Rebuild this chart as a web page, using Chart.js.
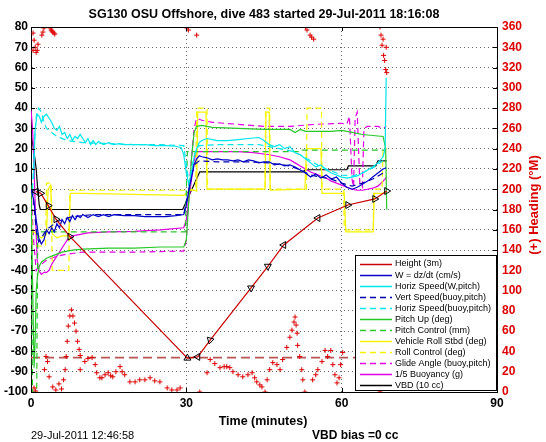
<!DOCTYPE html>
<html>
<head>
<meta charset="utf-8">
<script src="https://cdn.jsdelivr.net/npm/chart.js@4"></script>
<style>
  html, body { margin: 0; padding: 0; background: #fff; }
</style>
</head>
<body>
<canvas id="diveChart" width="546" height="442"></canvas>
<script>
// time in minutes, left axis in plot units, heading in degrees (right axis)
const xTicks = [0, 30, 60, 90];
const yTicks = [-100, -90, -80, -70, -60, -50, -40, -30, -20, -10, 0, 10, 20, 30, 40, 50, 60, 70, 80];

const heightSeries = [[0.97,-1.2],[1.87,-2],[3.34,-8.1],[4.83,-14.8],[7.53,-23.4],[30.2,-83.3],[32.2,-82.7],[34.6,-74.4],[42.5,-48.7],[45.75,-38],[48.8,-27.5],[55.4,-14.2],[61.2,-7.8],[66.4,-4.8],[68.7,-0.9]];
const heightMarkerRot = [-90, 90, 90, 90, 90, 0, -90, -45, 180, 180, -90, -90, 90, 90, 90];
const targetDepth = [[0,-83],[90,-83]];

const wSeries = [[0,0],[0.5,-5],[1,-15],[1.5,-24],[2,-27],[2.5,-25],[3,-20],[3.5,-22],[4,-19],[4.5,-21],[5,-17],[5.5,-19],[6,-15],[6.5,-17],[7,-14],[7.5,-16],[8,-13],[8.5,-15],[9,-13],[9.5,-14],[10,-12.5],[11,-14],[12,-12.5],[13,-13.5],[14,-12.5],[15,-13.5],[16,-12.5],[18,-13],[20,-13],[22,-13.5],[24,-13.5],[26,-13.5],[28,-13],[29.5,-12.5],[30,-8],[30.5,0],[31,6],[31.5,12],[32,15],[32.5,16.5],[33,16],[34,15.5],[35,14.5],[36,15],[37,14.5],[38,14.5],[39,14],[40,14.5],[41,13.5],[42,14.5],[43,14],[44,13],[45,13.5],[46,13.5],[47,12],[48,12.5],[49,11.5],[50,12],[51,11],[52,9.5],[53,8],[54,6],[55,7.5],[56,5.5],[57,7],[58,5],[59,6],[60,3],[61,1],[62,0],[63,1],[64,2.5],[65,4],[66,6],[67,8],[68,10],[68.6,10.5]];
const horizWSeries = [[0.5,5],[0.8,30],[1.2,37],[1.6,36],[2,33],[2.5,36],[3,37],[3.5,35],[4,33],[4.5,30],[5,29],[5.5,31],[6,27],[6.5,28],[7,25],[7.5,27],[8,24],[8.5,26],[9,25],[9.5,27],[10,25],[10.5,23],[11,25],[11.5,22],[12,24],[12.5,22],[13,23.5],[14,22],[15,23],[16,22],[17,22.5],[18,22],[20,22],[22,22],[24,21.5],[26,21.5],[28,21.2],[29,20.5],[29.5,17],[30,8],[30.5,2],[31,8],[31.5,16],[32,20],[32.5,23],[33,24],[34,25],[35,24.5],[36,24],[38,24],[40,24.5],[42,25],[44,25.5],[45,24],[46,22],[47,21],[48,22],[49,20],[50,21],[51,18],[52,17],[53,15],[54,13],[55,11],[56,12],[57,9.5],[58,8],[59,7],[60,6],[61,5.5],[62,6],[63,6.5],[64,8],[65,9.5],[66,11],[67,13],[68,16],[68.4,20],[68.6,55]];
const vertBuoySeries = [[0.3,0],[0.7,-12],[1.1,-22],[1.5,-26],[2,-24],[3,-20],[5,-16],[8,-13.5],[12,-12.5],[20,-12.5],[29.5,-12.5],[30.5,0],[31.5,12],[32.5,14],[36,13.5],[42,13.5],[46,13],[50,11.5],[52,9.5],[54,7],[56,6],[58,5],[60,3],[62,1.5],[64,3],[66,5],[68,8]];
const horizBuoySeries = [[0.3,0],[0.7,25],[1.1,38],[1.5,40],[2,38],[2.5,33],[3,30],[4,28],[5,26],[7,24],[10,23],[15,22.5],[20,22],[25,22],[29.5,21.5],[30,12],[30.5,3],[31,10],[31.7,18],[32.5,21.5],[36,22],[40,22],[44,22],[46,21],[48,20],[50,19],[52,17],[54,14],[56,11],[58,9],[60,7],[62,6.5],[64,8],[66,10.5],[68,14]];
const pitchSeries = [[0,2],[0.2,-30],[0.4,-60],[0.6,-88],[0.8,-75],[1,-50],[1.3,-42],[1.6,-38],[2,-36],[3,-34],[4,-33],[5,-32],[6,-31],[8,-30],[10,-29.5],[15,-29],[20,-29],[25,-28.5],[29.5,-28.5],[30,-25],[30.5,-5],[31,15],[31.5,28],[32,31],[33,31.5],[35,30.5],[40,30],[45,29.5],[50,29.5],[51,28],[52,29.5],[53,28.5],[55,28.5],[58,28.5],[60,29],[62,28],[64,27],[66,26.5],[68,26],[68.5,20],[68.7,-10]];
const pitchCtlSeries = [[0,-5],[0.3,-100],[1.1,-100],[1.3,-21],[29.8,-21],[30.2,18.5],[52,18.5],[52.2,19.3],[68.5,19.3]];
const rollSeries = [[0,-20],[1,-22],[2,-24],[3,-22],[3.3,0],[3.8,2],[4.1,-22],[5,-24],[6,-23],[7.3,-23],[7.6,-2],[10,-2],[20,-2.5],[29.5,-3],[30,-2],[31,0],[32,-1],[32.2,38],[33.8,38],[34,0],[45.2,0],[45.4,38],[46,38],[46.2,-0.5],[52.9,0],[53.2,20],[56,20],[56.2,-2],[60.5,-2],[60.8,-21],[66.1,-21],[66.3,-2],[68.5,-2]];
const rollCtlSeries = [[0,0],[0.3,-28],[2.8,-28],[3,3],[3.9,3],[4.1,-40],[7.3,-40],[7.5,-0.5],[31.8,-0.5],[32,40],[34,40],[34.1,0],[45.2,0],[45.3,40],[46.1,40],[46.2,0],[53.2,0],[53.3,40],[56.1,40],[56.2,0],[60.4,0],[60.5,-20],[66.1,-20],[66.2,0],[67.8,0],[68,20],[68.7,20]];
const glideSeries = [[0,0],[0.5,-25],[1,-40],[1.5,-38],[2,-37],[3,-35],[5,-33],[7,-32],[10,-31],[20,-31],[29.5,-30.5],[30,-25],[30.5,0],[31.5,30],[32,35],[33,34],[35,33],[40,32],[45,31],[50,31],[55,32],[60,32.5],[61,32],[61.5,36],[62,5],[62.3,1],[62.6,35],[63,38],[63.5,3],[64,1],[64.3,30],[65,31],[67,31],[68,30],[68.6,31]];
const buoySeries = [[0,39],[0.3,30],[0.6,10],[0.9,-15],[1.2,-35],[1.5,-40],[2,-42],[2.5,-41],[3,-41],[3.5,-40],[4,-37],[4.5,-35],[5,-33],[5.5,-31],[6,-29],[7,-25],[8,-23],[9,-22.5],[11,-21.5],[15,-21],[20,-20.8],[25,-20],[29.5,-19],[30,-15],[30.5,-5],[31,5],[31.5,14],[32,18.5],[35,18.5],[40,18.5],[43,18],[46,17],[48,16],[50,14.5],[51,13],[52,11.5],[53,10],[54,8.5],[55,7.5],[56,6.5],[57,5.5],[58,4],[59,3],[60,2],[61,1],[62,0],[63,-0.5],[64,-0.5],[65,0],[66,0.5],[67,1.5],[68,4],[68.7,6]];
const vbdSeries = [[0,27],[0.5,20],[1,10],[1.3,0],[1.6,-8],[1.8,-10],[29.3,-10],[32.6,8.6],[52.5,8.6],[53,9.6],[61,9.6],[61.3,11.5],[66.6,11.5],[67,14],[68.7,14]];

const headingSeries = [[0.4,354],[0.4,337],[0.6,347],[0.6,4],[0.8,340],[0.9,1],[1.0,335],[1.2,337],[1.35,343],[2.1,352],[2.3,355],[2.5,359],[2.6,22],[2.9,35],[3.2,30],[3.5,15],[3.7,359],[3.9,357],[4.05,356],[4.2,355],[4.2,5],[4.45,354],[4.6,353],[4.8,2],[5.4,8],[5.9,3],[6.3,12],[6.6,22],[6.8,35],[7.0,50],[7.2,65],[7.5,75],[7.8,81],[8.1,75],[8.4,68],[8.7,60],[9.0,50],[9.3,42],[9.5,36],[9.5,22],[10.4,30],[11.0,33],[11.8,34],[12.4,27],[12.7,19],[13.3,14],[13.7,14],[14.3,17],[14.9,19],[15.4,16],[15.8,15],[16.4,20],[17.2,25],[17.6,20],[18.1,17],[19.1,10],[20.1,10],[21.0,12],[22.0,12],[23.0,14],[23.9,11],[24.9,10],[26.3,4],[27.2,2],[28.2,2],[28.8,4],[30.1,359],[30.4,357],[32.0,352],[32.6,0],[34.0,19],[34.6,32],[35.5,28],[36.5,24],[37.3,25],[37.8,25],[38.4,24],[39.0,20],[40.0,17],[40.9,15],[41.9,17],[42.7,19],[43.2,14],[43.6,10],[44.2,7],[44.6,5],[45.2,0],[45.6,12],[46.1,22],[46.7,29],[47.5,27],[48.1,22],[48.6,32],[49.4,44],[50.0,54],[50.4,61],[50.8,69],[51.0,74],[51.2,66],[51.4,58],[51.5,46],[51.9,35],[52.3,22],[52.5,12],[52.9,0],[53.0,360],[53.3,357],[53.9,352],[54.2,350],[54.4,12],[54.6,348],[55.0,17],[55.4,22],[56.2,30],[56.8,41],[57.3,35],[57.9,41],[58.3,27],[58.7,17],[59.1,9],[59.5,14],[59.8,27],[60.2,39],[67.4,0],[67.4,360],[67.6,352],[67.8,342],[68.0,348],[68.1,332],[68.3,327],[68.5,318],[68.6,340],[68.7,315]];

const FONT = "'Liberation Sans', Arial, Helvetica, sans-serif";
const RED = 'rgb(220,0,0)';

function pts(series) {
    return series.map(p => ({ x: p[0], y: p[1] }));
}

function lineSet(label, series, color, dashed) {
    return {
        label: label,
        data: pts(series),
        borderColor: color,
        borderWidth: 1.2,
        borderDash: dashed ? [6, 4] : [],
        pointRadius: 0,
        tension: 0,
        fill: false,
        yAxisID: 'y',
        inLegend: true
    };
}

const datasets = [
    {
        label: 'Heading',
        data: pts(headingSeries),
        showLine: false,
        pointStyle: 'cross',
        pointRadius: 2.5,
        borderColor: RED,
        borderWidth: 1,
        yAxisID: 'y2'
    },
    {
        label: 'Height (3m)',
        data: pts(heightSeries),
        borderColor: 'rgb(200,0,0)',
        borderWidth: 1.2,
        tension: 0,
        fill: false,
        pointStyle: 'triangle',
        pointRadius: 4,
        pointRotation: heightMarkerRot,
        pointBorderColor: '#000',
        pointBackgroundColor: 'rgba(255,255,255,0)',
        pointBorderWidth: 1,
        yAxisID: 'y',
        inLegend: true
    },
    lineSet('W = dz/dt (cm/s)', wSeries, 'rgb(0,0,200)', false),
    lineSet('Horiz Speed(W,pitch)', horizWSeries, 'rgb(0,230,235)', false),
    lineSet('Vert Speed(buoy,pitch)', vertBuoySeries, 'rgb(0,0,170)', true),
    lineSet('Horiz Speed(buoy,pitch)', horizBuoySeries, 'rgb(0,230,235)', true),
    lineSet('Pitch Up (deg)', pitchSeries, 'rgb(40,200,40)', false),
    lineSet('Pitch Control (mm)', pitchCtlSeries, 'rgb(40,200,40)', true),
    lineSet('Vehicle Roll Stbd (deg)', rollSeries, 'rgb(245,245,0)', false),
    lineSet('Roll Control (deg)', rollCtlSeries, 'rgb(245,245,0)', true),
    lineSet('Glide Angle (buoy,pitch)', glideSeries, 'rgb(225,0,225)', true),
    lineSet('1/5 Buoyancy (g)', buoySeries, 'rgb(225,0,225)', false),
    lineSet('VBD (10 cc)', vbdSeries, '#000', false),
    {
        label: '',
        data: pts(targetDepth),
        borderColor: 'rgb(185,85,85)',
        borderWidth: 1.8,
        borderDash: [9, 5],
        pointRadius: 0,
        fill: false,
        yAxisID: 'y'
    }
];

// MATLAB-looking frame, texts and the boxed legend inside the axes
const matlabFrame = {
    id: 'matlabFrame',
    afterDraw(chart) {
        const ctx = chart.ctx;
        const a = chart.chartArea;
        const xs = chart.scales.x, ys = chart.scales.y;
        ctx.save();
        ctx.strokeStyle = '#000';
        ctx.lineWidth = 1;
        ctx.setLineDash([]);
        ctx.beginPath();
        ctx.moveTo(a.left, a.top + 0.5);
        ctx.lineTo(a.right, a.top + 0.5);
        yTicks.forEach(v => {
            const y = Math.round(ys.getPixelForValue(v)) + 0.5;
            ctx.moveTo(a.left, y); ctx.lineTo(a.left + 4, y);
            ctx.moveTo(a.right, y); ctx.lineTo(a.right - 4, y);
        });
        xTicks.forEach(t => {
            const x = Math.round(xs.getPixelForValue(t)) + 0.5;
            ctx.moveTo(x, a.bottom); ctx.lineTo(x, a.bottom - 4);
            ctx.moveTo(x, a.top); ctx.lineTo(x, a.top + 4);
        });
        ctx.stroke();

        // texts
        ctx.fillStyle = '#000';
        ctx.textAlign = 'center';
        ctx.textBaseline = 'middle';
        ctx.font = 'bold 12.5px ' + FONT;
        ctx.fillText('SG130 OSU Offshore, dive 483 started 29-Jul-2011 18:16:08', 264, 15);
        ctx.fillText('Time (minutes)', 263, 422);
        ctx.textAlign = 'left';
        ctx.font = 'bold 12px ' + FONT;
        ctx.fillText('VBD bias =0 cc', 312, 436);
        ctx.font = '11px ' + FONT;
        ctx.fillText('29-Jul-2011 12:46:58', 31, 436);

        ctx.save();
        ctx.translate(534, 205);
        ctx.rotate(-Math.PI / 2);
        ctx.textAlign = 'center';
        ctx.fillStyle = RED;
        ctx.font = 'bold 13px ' + FONT;
        ctx.fillText('(+) Heading (\u00B0M)', 0, 0);
        ctx.restore();

        // legend box
        const items = chart.data.datasets.filter(d => d.inLegend);
        const bx = 355, by = 255, bw = 141, bh = 135;
        ctx.fillStyle = '#fff';
        ctx.fillRect(bx, by, bw, bh);
        ctx.strokeStyle = '#000';
        ctx.strokeRect(bx + 0.5, by + 0.5, bw, bh);
        ctx.font = '9px ' + FONT;
        items.forEach((d, i) => {
            const y = 263.5 + i * 11.05;
            ctx.save();
            ctx.strokeStyle = d.borderColor;
            ctx.lineWidth = 1.5;
            ctx.setLineDash(d.borderDash && d.borderDash.length ? [6, 4] : []);
            ctx.beginPath();
            ctx.moveTo(360, Math.round(y) + 0.5);
            ctx.lineTo(392, Math.round(y) + 0.5);
            ctx.stroke();
            ctx.restore();
            ctx.fillStyle = '#000';
            ctx.textAlign = 'left';
            ctx.fillText(d.label, 395, y + 0.5);
        });
        ctx.restore();
    }
};

new Chart(document.getElementById('diveChart'), {
    type: 'line',
    data: { datasets: datasets },
    options: {
        responsive: false,
        animation: false,
        events: [],
        layout: { padding: { top: 27, left: 0, right: 0, bottom: 0 } },
        plugins: {
            legend: { display: false },
            title: { display: false },
            tooltip: { enabled: false }
        },
        scales: {
            x: {
                type: 'linear',
                min: 0,
                max: 90,
                afterBuildTicks: s => { s.ticks = xTicks.map(v => ({ value: v })); },
                ticks: { color: '#000', font: { family: FONT, size: 12, weight: 'bold' }, padding: 4, maxRotation: 0 },
                grid: { color: 'rgba(0,0,0,0.6)', drawTicks: false },
                border: { color: '#000', width: 1, dash: [1, 3] },
                afterFit: s => { s.height = 50; }
            },
            y: {
                min: -100,
                max: 80,
                afterBuildTicks: s => { s.ticks = yTicks.map(v => ({ value: v })); },
                ticks: { color: '#000', font: { family: FONT, size: 12, weight: 'bold' }, padding: 3 },
                grid: { color: 'rgba(0,0,0,0.6)', drawTicks: false },
                border: { color: '#000', width: 1, dash: [1, 3] },
                afterFit: s => { s.width = 31; }
            },
            y2: {
                position: 'right',
                min: 0,
                max: 360,
                ticks: { stepSize: 20, color: RED, font: { family: FONT, size: 12, weight: 'bold' }, padding: 5 },
                grid: { drawOnChartArea: false, drawTicks: false },
                border: { color: '#000', width: 1 },
                afterFit: s => { s.width = 49; }
            }
        }
    },
    plugins: [matlabFrame]
});
</script>
</body>
</html>
